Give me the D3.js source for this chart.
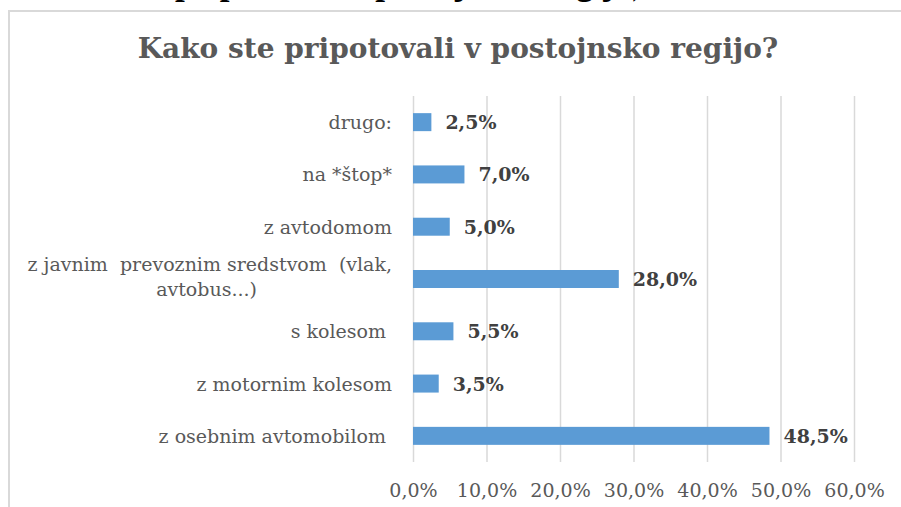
<!DOCTYPE html>
<html>
<head>
<meta charset="utf-8">
<script src="https://cdn.jsdelivr.net/npm/d3@7"></script>
<style>
	html, body { margin: 0; background: #fff; overflow: hidden; width: 901px; height: 507px; }
	svg { display: block; overflow: hidden; }
	text { white-space: pre; }
</style>
</head>
<body>
<script>
const categories = ["drugo:", "na *štop*", "z avtodomom", "z javnim  prevoznim sredstvom  (vlak,\navtobus...)", "s kolesom ", "z motornim kolesom", "z osebnim avtomobilom "];
const values = [2.5, 7.0, 5.0, 28.0, 5.5, 3.5, 48.5];
const tickValues = [0, 10, 20, 30, 40, 50, 60];
const title = "Kako ste pripotovali v postojnsko regijo?";
const caption = "Kako ste pripotovali v postojnsko regijo)";

const width = 901, height = 507;
const margin = {top: 96, right: 47, bottom: 45, left: 413};

const svg = d3.select("body")
	.append("svg")
	.attr("width", width)
	.attr("height", height);

// cut-off caption line from the page above the chart
svg.append("text")
	.attr("x", 35)
	.attr("y", -6.5)
	.attr("font-family", "Liberation Serif, serif")
	.attr("font-weight", "bold")
	.attr("font-size", 35)
	.attr("fill", "#000")
	.text(caption);

// chart frame (only top and left edges are inside the picture)
svg.append("path")
	.attr("d", `M9,${height}V11H${width}`)
	.attr("fill", "none")
	.attr("stroke", "#d9d9d9")
	.attr("stroke-width", 2);

svg.append("text")
	.attr("x", 458)
	.attr("y", 58)
	.attr("text-anchor", "middle")
	.attr("font-family", "DejaVu Serif, serif")
	.attr("font-weight", "bold")
	.attr("font-size", 28)
	.attr("fill", "#595959")
	.text(title);

const x = d3.scaleLinear()
	.domain([0, 60])
	.range([margin.left, width - margin.right]);

const y = d3.scaleBand()
	.domain(categories)
	.range([margin.top, height - margin.bottom])
	.paddingInner(0.656)
	.paddingOuter(0.328);

const fmt = d => d.toFixed(1).replace(".", ",") + "%";

//gridlines + tick labels
const xAxis = d3.axisBottom(x)
	.tickValues(tickValues)
	.tickSize(-(height - margin.bottom - margin.top))
	.tickFormat(fmt);

svg.append("g")
	.attr("transform", `translate(0,${height - margin.bottom})`)
	.call(xAxis)
	.call(g => g.select(".domain").remove())
	.call(g => g.selectAll(".tick line")
		.attr("stroke", "#d9d9d9")
		.attr("stroke-width", 1.5))
	.call(g => g.selectAll(".tick text")
		.attr("y", 35)
		.attr("dy", 0)
		.attr("font-family", "DejaVu Serif, serif")
		.attr("font-size", 19)
		.attr("fill", "#595959"));

//bars
svg.append("g")
	.attr("fill", "#5b9bd5")
	.selectAll("rect")
	.data(values)
	.join("rect")
		.attr("x", x(0))
		.attr("y", (d, i) => y(categories[i]))
		.attr("width", d => x(d) - x(0))
		.attr("height", y.bandwidth());

//value labels
svg.append("g")
	.attr("font-family", "DejaVu Serif, serif")
	.attr("font-weight", "bold")
	.attr("font-size", 19)
	.attr("fill", "#404040")
	.selectAll("text")
	.data(values)
	.join("text")
		.attr("x", d => x(d) + 14)
		.attr("y", (d, i) => y(categories[i]) + y.bandwidth() / 2 + 7)
		.text(fmt);

//category labels
const label = svg.append("g")
	.attr("font-family", "DejaVu Serif, serif")
	.attr("font-size", 19)
	.attr("fill", "#595959")
	.selectAll("text")
	.data(categories)
	.join("text")
		.attr("text-anchor", "end")
		.attr("x", 392)
		.attr("y", d => y(d) + y.bandwidth() / 2 + (d.includes("\n") ? -8 : 7));

label.each(function(d) {
	const lines = d.split("\n");
	const t = d3.select(this);
	lines.forEach((l, i) => {
		t.append("tspan")
			.attr("x", i ? 257 : 392)
			.attr("dy", i ? 24.5 : 0)
			.text(l);
	});
});
</script>
</body>
</html>
